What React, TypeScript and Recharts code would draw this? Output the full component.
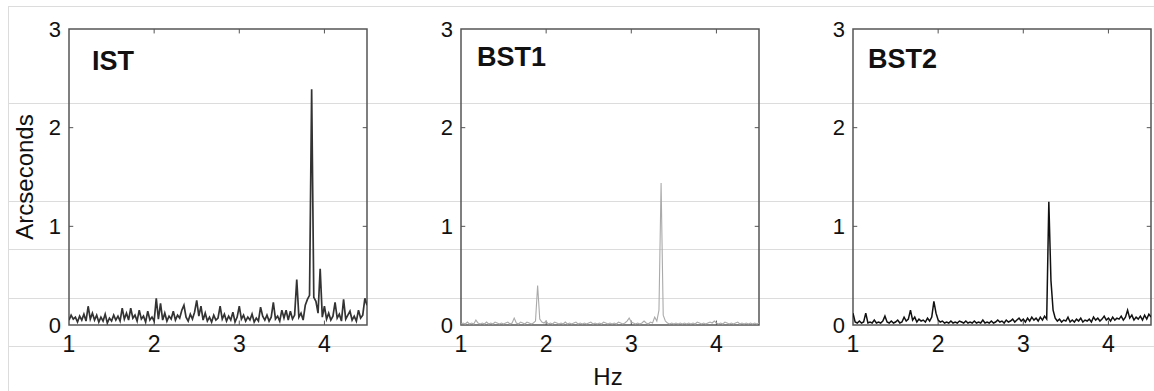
import React from "react";
import { LineChart, Line, XAxis, YAxis, ReferenceArea, ReferenceLine } from "recharts";

// Amplitude spectra (arcseconds) sampled on a uniform frequency grid
const HZ_START = 1.0;
const HZ_STEP = 0.025;

const IST_VALUES = [
  0.05, 0.10, 0.06, 0.08, 0.03, 0.09, 0.05, 0.11, 0.04, 0.19,
  0.06, 0.12, 0.05, 0.10, 0.03, 0.08, 0.04, 0.11, 0.02, 0.07,
  0.04, 0.10, 0.05, 0.09, 0.04, 0.17, 0.06, 0.12, 0.05, 0.17,
  0.07, 0.10, 0.04, 0.15, 0.06, 0.09, 0.03, 0.14, 0.05, 0.08,
  0.04, 0.27, 0.06, 0.22, 0.05, 0.12, 0.04, 0.09, 0.06, 0.14,
  0.05, 0.10, 0.07, 0.15, 0.20, 0.08, 0.04, 0.11, 0.06, 0.13,
  0.25, 0.09, 0.19, 0.05, 0.12, 0.04, 0.08, 0.03, 0.10, 0.05,
  0.07, 0.19, 0.06, 0.11, 0.04, 0.09, 0.05, 0.13, 0.03, 0.08,
  0.19, 0.06, 0.10, 0.04, 0.08, 0.05, 0.11, 0.03, 0.07, 0.04,
  0.18, 0.09, 0.05, 0.10, 0.04, 0.08, 0.23, 0.06, 0.09, 0.04,
  0.15, 0.07, 0.15, 0.05, 0.14, 0.06, 0.10, 0.46, 0.08, 0.12,
  0.05, 0.20, 0.26, 0.30, 2.39, 0.28, 0.24, 0.12, 0.57, 0.08,
  0.19, 0.06, 0.12, 0.05, 0.09, 0.23, 0.07, 0.11, 0.04, 0.26,
  0.06, 0.10, 0.14, 0.05, 0.09, 0.04, 0.15, 0.07, 0.10, 0.27,
  0.20,
];

const BST1_VALUES = [
  0.01, 0.02, 0.01, 0.03, 0.01, 0.02, 0.01, 0.05, 0.02, 0.01,
  0.02, 0.01, 0.03, 0.01, 0.02, 0.01, 0.03, 0.02, 0.01, 0.02,
  0.01, 0.02, 0.03, 0.01, 0.02, 0.07, 0.02, 0.01, 0.03, 0.02,
  0.01, 0.03, 0.02, 0.01, 0.02, 0.04, 0.40, 0.06, 0.03, 0.02,
  0.04, 0.01, 0.02, 0.01, 0.03, 0.02, 0.01, 0.02, 0.01, 0.03,
  0.01, 0.02, 0.01, 0.02, 0.03, 0.01, 0.02, 0.01, 0.02, 0.01,
  0.02, 0.03, 0.01, 0.02, 0.01, 0.02, 0.01, 0.03, 0.02, 0.01,
  0.02, 0.01, 0.02, 0.01, 0.03, 0.02, 0.01, 0.02, 0.04, 0.07,
  0.03, 0.02, 0.01, 0.02, 0.01, 0.02, 0.04, 0.02, 0.01, 0.03,
  0.02, 0.08, 0.04, 0.15, 1.44, 0.10, 0.04, 0.02, 0.01, 0.02,
  0.01, 0.02, 0.01, 0.02, 0.01, 0.02, 0.01, 0.02, 0.01, 0.02,
  0.01, 0.03, 0.02, 0.01, 0.02, 0.01, 0.02, 0.03, 0.02, 0.04,
  0.02, 0.01, 0.02, 0.01, 0.03, 0.02, 0.01, 0.02, 0.01, 0.02,
  0.03, 0.01, 0.02, 0.01, 0.02, 0.01, 0.02, 0.01, 0.02, 0.01,
  0.02,
];

const BST2_VALUES = [
  0.12, 0.03, 0.02, 0.04, 0.02, 0.03, 0.12, 0.02, 0.03, 0.02,
  0.05, 0.02, 0.03, 0.02, 0.04, 0.09, 0.03, 0.02, 0.04, 0.02,
  0.03, 0.05, 0.02, 0.03, 0.08, 0.04, 0.06, 0.15, 0.05, 0.08,
  0.03, 0.06, 0.04, 0.05, 0.03, 0.07, 0.04, 0.08, 0.24, 0.12,
  0.05, 0.03, 0.04, 0.02, 0.03, 0.02, 0.04, 0.02, 0.03, 0.02,
  0.04, 0.03, 0.02, 0.04, 0.02, 0.03, 0.02, 0.04, 0.02, 0.03,
  0.02, 0.05, 0.02, 0.03, 0.02, 0.04, 0.02, 0.03, 0.05, 0.03,
  0.04, 0.02, 0.05, 0.03, 0.04, 0.06, 0.03, 0.05, 0.07, 0.04,
  0.06, 0.03, 0.07, 0.04, 0.08, 0.05, 0.07, 0.04, 0.08, 0.05,
  0.09, 0.06, 1.25, 0.45, 0.15, 0.07, 0.04, 0.06, 0.03, 0.05,
  0.04, 0.08, 0.03, 0.05, 0.03, 0.06, 0.04, 0.07, 0.03, 0.05,
  0.04, 0.06, 0.03, 0.08, 0.05, 0.07, 0.04, 0.06, 0.09, 0.05,
  0.07, 0.04, 0.08, 0.05, 0.07, 0.06, 0.09, 0.05, 0.08, 0.15,
  0.07, 0.10, 0.05, 0.08, 0.06, 0.09, 0.05, 0.10, 0.06, 0.11,
  0.08,
];

const X_TICKS = [1, 2, 3, 4];
const Y_TICKS = [0, 1, 2, 3];
const X_DOMAIN: [number, number] = [1, 4.5];
const Y_DOMAIN: [number, number] = [0, 3];

const FONT = '"Liberation Sans", Arial, Helvetica, sans-serif';

const toRows = (values: number[]) =>
  values.map((v, i) => ({ hz: +(HZ_START + i * HZ_STEP).toFixed(3), v }));

type PanelProps = {
  left: number;
  values: number[];
  color: string;
  strokeWidth: number;
};

const FRAME = "#555";

function Panel({ left, values, color, strokeWidth }: PanelProps) {
  const data = toRows(values);
  const tickLenY = 0.045;
  const tickLenX = 0.05;
  return (
    <div style={{ position: "absolute", left, top: 0 }}>
      <LineChart
        width={362}
        height={391}
        data={data}
        margin={{ top: 29, right: 4, bottom: 36, left: 0 }}
      >
        <XAxis
          dataKey="hz"
          type="number"
          domain={X_DOMAIN}
          ticks={X_TICKS}
          allowDataOverflow
          axisLine={false}
          tickLine={false}
          height={30}
          tickMargin={5}
          tick={{ fill: "#111", fontSize: 23, fontFamily: FONT }}
        />
        <YAxis
          type="number"
          domain={Y_DOMAIN}
          ticks={Y_TICKS}
          allowDataOverflow
          axisLine={false}
          tickLine={false}
          width={60}
          tickMargin={2}
          tick={{ fill: "#111", fontSize: 22, fontFamily: FONT }}
        />
        {X_TICKS.slice(1).map((t) => (
          <ReferenceLine
            key={`xb${t}`}
            segment={[{ x: t, y: 0 }, { x: t, y: tickLenY }]}
            stroke={FRAME}
            strokeWidth={1}
            ifOverflow="visible"
          />
        ))}
        {X_TICKS.slice(1).map((t) => (
          <ReferenceLine
            key={`xt${t}`}
            segment={[{ x: t, y: 3 }, { x: t, y: 3 - tickLenY }]}
            stroke={FRAME}
            strokeWidth={1}
            ifOverflow="visible"
          />
        ))}
        {Y_TICKS.slice(1, 3).map((t) => (
          <ReferenceLine
            key={`yl${t}`}
            segment={[{ x: 1, y: t }, { x: 1 + tickLenX, y: t }]}
            stroke={FRAME}
            strokeWidth={1}
            ifOverflow="visible"
          />
        ))}
        {Y_TICKS.slice(1, 3).map((t) => (
          <ReferenceLine
            key={`yr${t}`}
            segment={[{ x: 4.5, y: t }, { x: 4.5 - tickLenX, y: t }]}
            stroke={FRAME}
            strokeWidth={1}
            ifOverflow="visible"
          />
        ))}
        <Line
          type="linear"
          dataKey="v"
          stroke={color}
          strokeWidth={strokeWidth}
          dot={false}
          activeDot={false}
          isAnimationActive={false}
        />
        <ReferenceArea
          x1={1}
          x2={4.5}
          y1={0}
          y2={3}
          fill="none"
          fillOpacity={0}
          stroke={FRAME}
          strokeWidth={1.5}
          ifOverflow="visible"
        />
      </LineChart>
    </div>
  );
}

// Faint ruled lines of the page the figure sits on
const RULE_YS = [6, 103, 201, 249, 298, 346];

export default function App() {
  return (
    <div
      style={{
        position: "absolute",
        left: 0,
        top: 0,
        width: 1154,
        height: 391,
        background: "#fff",
        overflow: "hidden",
      }}
    >
      <svg
        width={1154}
        height={391}
        style={{ position: "absolute", left: 0, top: 0 }}
      >
        {RULE_YS.map((y) => (
          <line key={y} x1={8} x2={1154} y1={y + 0.5} y2={y + 0.5} stroke="#dcdcdc" strokeWidth={1} />
        ))}
        <line x1={8.5} x2={8.5} y1={6} y2={391} stroke="#dcdcdc" strokeWidth={1} />
        <text x={92} y={70} fontFamily={FONT} fontWeight="bold" fontSize={27} fill="#111">
          IST
        </text>
        <text x={477} y={66} fontFamily={FONT} fontWeight="bold" fontSize={27} fill="#111">
          BST1
        </text>
        <text x={868} y={68} fontFamily={FONT} fontWeight="bold" fontSize={27} fill="#111">
          BST2
        </text>
        <text x={608} y={385} textAnchor="middle" fontFamily={FONT} fontSize={24} fill="#111">
          Hz
        </text>
        <text
          x={0}
          y={0}
          transform="translate(33 177) rotate(-90)"
          textAnchor="middle"
          fontFamily={FONT}
          fontSize={24}
          fill="#111"
        >
          Arcseconds
        </text>
      </svg>
      <Panel left={9} values={IST_VALUES} color="#333" strokeWidth={1.7} />
      <Panel left={401} values={BST1_VALUES} color="#aaa" strokeWidth={1.1} />
      <Panel left={793} values={BST2_VALUES} color="#111" strokeWidth={1.5} />
    </div>
  );
}
